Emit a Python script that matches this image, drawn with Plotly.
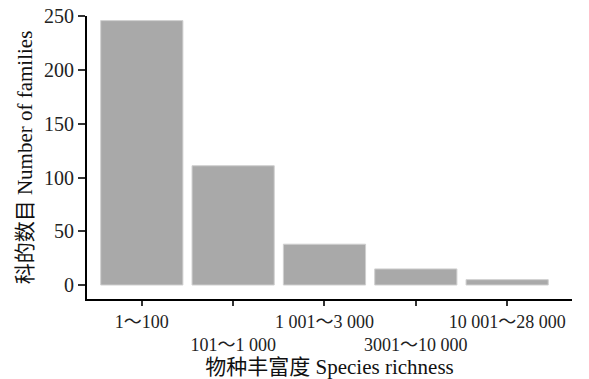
import plotly.graph_objects as go

categories = ["1～100", "101～1 000", "1 001～3 000", "3001～10 000", "10 001～28 000"]
families = [246, 111, 38, 15, 5]
y_ticks = [0, 50, 100, 150, 200, 250]

# alternate tick labels onto two rows
tick_text = [c if i % 2 == 0 else "<br>" + c for i, c in enumerate(categories)]

FONT = "Liberation Serif, Times New Roman, Noto Sans CJK SC, serif"

fig = go.Figure(
    go.Bar(
        x=list(range(len(categories))),
        y=families,
        marker=dict(color="#a9a9a9", line=dict(color="#d0d0d0", width=1)),
        width=0.9,
    )
)

fig.update_layout(
    width=589,
    height=379,
    margin=dict(l=87, r=17, t=16, b=80),
    paper_bgcolor="white",
    plot_bgcolor="white",
    showlegend=False,
    font=dict(family=FONT, color="#222222", size=18),
)

fig.update_xaxes(
    range=[-0.6, 4.71],
    tickvals=list(range(len(categories))),
    ticktext=tick_text,
    tickangle=0,
    ticks="outside",
    ticklen=5,
    tickwidth=1.5,
    tickcolor="#333333",
    showline=True,
    linecolor="black",
    linewidth=2,
    showgrid=False,
    zeroline=False,
    tickfont=dict(size=18, family=FONT, color="#222222"),
    title=dict(text="物种丰富度 Species richness", font=dict(size=21, family=FONT, color="#111111"), standoff=2),
    automargin=False,
)

fig.update_yaxes(
    range=[-13, 250.3],
    tickvals=y_ticks,
    ticks="outside",
    ticklen=7,
    tickwidth=1.5,
    tickcolor="#333333",
    showline=True,
    linecolor="black",
    linewidth=2,
    showgrid=False,
    zeroline=False,
    tickfont=dict(size=20, family=FONT, color="#222222"),
    title=dict(text="科的数目 Number of families", font=dict(size=21, family=FONT, color="#111111"), standoff=6),
    automargin=False,
)

fig.write_html(
    "out.html",
    config={"displayModeBar": False},
    post_script="document.body.style.margin='0';",
)
